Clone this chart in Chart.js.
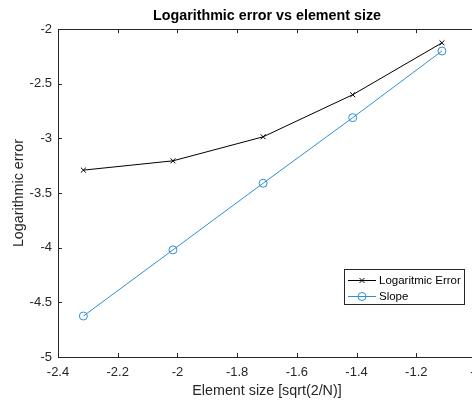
<!DOCTYPE html>
<html>
<head>
<meta charset="utf-8">
<script src="https://cdn.jsdelivr.net/npm/chart.js@4.4.0/dist/chart.umd.min.js"></script>
<style>
  html, body { margin: 0; padding: 0; background: #fff; overflow: hidden; }
  #wrap { width: 492px; height: 403px; }
</style>
</head>
<body>
<div id="wrap"><canvas id="c" width="492" height="403"></canvas></div>
<script>
// element size, log10(sqrt(2/N))
const elementSize = [-2.315, -2.015, -1.713, -1.413, -1.114];
// logarithmic error per mesh
const logError = [-3.29, -3.205, -2.985, -2.60, -2.125];
// reference slope line
const slopeLine = [-4.625, -4.02, -3.41, -2.81, -2.20];

const xTicks = [-2.4, -2.2, -2, -1.8, -1.6, -1.4, -1.2, -1];
const yTicks = [-5, -4.5, -4, -3.5, -3, -2.5, -2];

const axisColor = '#262626';
const blue = '#2f8fd3';
const fontFam = '"Liberation Sans", Arial, sans-serif';

function toPoints(xs, ys) {
    return xs.map((x, i) => ({ x: x, y: ys[i] }));
}

// MATLAB style box with inward ticks, plus a legend inside the axes
const boxPlugin = {
    id: 'matlabBox',
    afterDraw(chart) {
        const c = chart.ctx;
        const a = chart.chartArea;
        const xs = chart.scales.x;
        const ys = chart.scales.y;
        const tl = 4;
        c.save();
        c.strokeStyle = axisColor;
        c.lineWidth = 1;
        c.beginPath();
        c.rect(Math.round(a.left) + 0.5, Math.round(a.top) + 0.5,
               Math.round(a.right - a.left), Math.round(a.bottom - a.top));
        c.stroke();

        c.beginPath();
        xTicks.forEach(v => {
            const px = Math.round(xs.getPixelForValue(v)) + 0.5;
            c.moveTo(px, a.bottom); c.lineTo(px, a.bottom - tl);
            c.moveTo(px, a.top); c.lineTo(px, a.top + tl);
        });
        yTicks.forEach(v => {
            const py = Math.round(ys.getPixelForValue(v)) + 0.5;
            c.moveTo(a.left, py); c.lineTo(a.left + tl, py);
            c.moveTo(a.right, py); c.lineTo(a.right - tl, py);
        });
        c.stroke();

        // legend
        const lx = 344, ly = 269, lw = 120, lh = 35;
        c.fillStyle = '#fff';
        c.fillRect(lx, ly, lw, lh);
        c.strokeStyle = axisColor;
        c.strokeRect(lx + 0.5, ly + 0.5, lw, lh);
        c.font = '11.5px ' + fontFam;
        c.textBaseline = 'middle';
        chart.data.datasets.forEach((ds, i) => {
            const y = ly + 11 + i * 16;
            c.strokeStyle = ds.borderColor;
            c.lineWidth = 1;
            c.beginPath();
            c.moveTo(lx + 4, y + 0.5); c.lineTo(lx + 32, y + 0.5);
            c.stroke();
            const mx = lx + 18;
            c.beginPath();
            if (ds.pointStyle === 'crossRot') {
                const r = 2.5;
                c.moveTo(mx - r, y - r + 0.5); c.lineTo(mx + r, y + r + 0.5);
                c.moveTo(mx - r, y + r + 0.5); c.lineTo(mx + r, y - r + 0.5);
            } else {
                c.arc(mx, y + 0.5, 4, 0, Math.PI * 2);
            }
            c.stroke();
            c.fillStyle = '#000';
            c.fillText(ds.label, lx + 35, y + 1);
        });
        c.restore();
    }
};

new Chart(document.getElementById('c'), {
    type: 'scatter',
    data: {
        datasets: [
            {
                label: 'Logaritmic Error',
                data: toPoints(elementSize, logError),
                showLine: true,
                borderColor: '#000000',
                backgroundColor: 'transparent',
                borderWidth: 1,
                pointStyle: 'crossRot',
                pointRadius: 3.5,
                pointBorderWidth: 1,
                pointBorderColor: '#000000',
                tension: 0
            },
            {
                label: 'Slope',
                data: toPoints(elementSize, slopeLine),
                showLine: true,
                borderColor: blue,
                backgroundColor: 'transparent',
                borderWidth: 1,
                pointStyle: 'circle',
                pointRadius: 4,
                pointBorderWidth: 1,
                pointBorderColor: blue,
                pointBackgroundColor: 'transparent',
                tension: 0
            }
        ]
    },
    options: {
        responsive: false,
        animation: false,
        devicePixelRatio: 1,
        layout: { padding: { left: 0, right: 16, top: 0, bottom: 0 } },
        plugins: {
            legend: { display: false },
            tooltip: { enabled: false },
            title: {
                display: true,
                fullSize: false,   // center over the axes, like MATLAB
                text: 'Logarithmic error vs element size',
                color: '#000',
                font: { family: fontFam, size: 14.3, weight: 'bold' },
                padding: { top: 7, bottom: 5 }
            }
        },
        scales: {
            x: {
                type: 'linear',
                min: -2.4,
                max: -1,
                afterBuildTicks: (s) => { s.ticks = xTicks.map(v => ({ value: v })); },
                afterFit: (s) => { s.height = 46; },
                grid: { display: false, drawTicks: false },
                border: { display: false },
                ticks: {
                    color: axisColor,
                    padding: 8,
                    maxRotation: 0,
                    font: { family: fontFam, size: 13 },
                    callback: (v) => String(Math.round(v * 10) / 10)
                },
                title: {
                    display: true,
                    text: 'Element size [sqrt(2/N)]',
                    color: axisColor,
                    font: { family: fontFam, size: 14.3 },
                    padding: { top: 0, bottom: 3 }
                }
            },
            y: {
                type: 'linear',
                min: -5,
                max: -2,
                afterBuildTicks: (s) => { s.ticks = yTicks.map(v => ({ value: v })); },
                afterFit: (s) => { s.width = 58; },
                grid: { display: false, drawTicks: false },
                border: { display: false },
                ticks: {
                    color: axisColor,
                    padding: 6,
                    font: { family: fontFam, size: 13 },
                    callback: (v) => String(Math.round(v * 10) / 10)
                },
                title: {
                    display: true,
                    text: 'Logarithmic error',
                    color: axisColor,
                    font: { family: fontFam, size: 14.3 },
                    padding: { top: 10, bottom: 0 }
                }
            }
        }
    },
    plugins: [boxPlugin]
});
</script>
</body>
</html>
